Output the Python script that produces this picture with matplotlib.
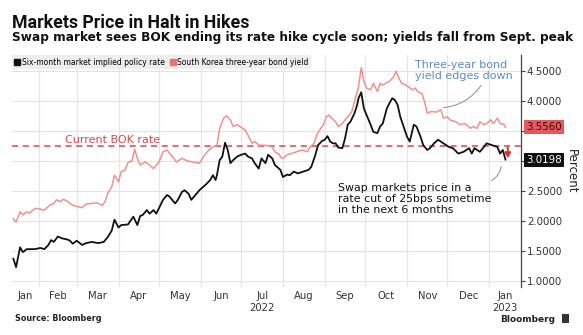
import matplotlib
matplotlib.use("Agg")
import matplotlib.pyplot as plt
import matplotlib.dates as mdates
from matplotlib.lines import Line2D
from matplotlib.patches import Rectangle
import pandas as pd

# six-month market implied policy rate
policy_dates = [
    "2022-01-13", "2022-01-15", "2022-01-18", "2022-01-20", "2022-01-23", "2022-01-29",
    "2022-02-02", "2022-02-05", "2022-02-08", "2022-02-10", "2022-02-12", "2022-02-15",
    "2022-02-18", "2022-02-22", "2022-02-24", "2022-02-26", "2022-03-01", "2022-03-05",
    "2022-03-08", "2022-03-12", "2022-03-17", "2022-03-21", "2022-03-24", "2022-03-27",
    "2022-03-29", "2022-04-01", "2022-04-03", "2022-04-08", "2022-04-12", "2022-04-15",
    "2022-04-17", "2022-04-19", "2022-04-22", "2022-04-24", "2022-04-27", "2022-04-29",
    "2022-05-02", "2022-05-04", "2022-05-07", "2022-05-09", "2022-05-13", "2022-05-15",
    "2022-05-18", "2022-05-20", "2022-05-23", "2022-05-25", "2022-05-28", "2022-05-31",
    "2022-06-03", "2022-06-05", "2022-06-08", "2022-06-10", "2022-06-12", "2022-06-13",
    "2022-06-15", "2022-06-17", "2022-06-19", "2022-06-21", "2022-06-23", "2022-06-25",
    "2022-06-28", "2022-07-01", "2022-07-04", "2022-07-06", "2022-07-09", "2022-07-11",
    "2022-07-14", "2022-07-16", "2022-07-19", "2022-07-21", "2022-07-24", "2022-07-26",
    "2022-07-30", "2022-08-01", "2022-08-04", "2022-08-06", "2022-08-09", "2022-08-12",
    "2022-08-16", "2022-08-20", "2022-08-22", "2022-08-25", "2022-08-27", "2022-08-30",
    "2022-09-01", "2022-09-03", "2022-09-05", "2022-09-07", "2022-09-09", "2022-09-11",
    "2022-09-14", "2022-09-16", "2022-09-18", "2022-09-20", "2022-09-23", "2022-09-25",
    "2022-09-26", "2022-09-28", "2022-09-30", "2022-10-02", "2022-10-05", "2022-10-07",
    "2022-10-10", "2022-10-12", "2022-10-14", "2022-10-17", "2022-10-19", "2022-10-21",
    "2022-10-23", "2022-10-25", "2022-10-27", "2022-10-29", "2022-11-01", "2022-11-03",
    "2022-11-06", "2022-11-08", "2022-11-11", "2022-11-13", "2022-11-16", "2022-11-18",
    "2022-11-21", "2022-11-24", "2022-11-28", "2022-12-02", "2022-12-05", "2022-12-09",
    "2022-12-13", "2022-12-17", "2022-12-19", "2022-12-21", "2022-12-25", "2022-12-28",
    "2022-12-30", "2023-01-03", "2023-01-07", "2023-01-09", "2023-01-11", "2023-01-13",
]
policy_rate = [
    1.37, 1.23, 1.56, 1.48, 1.53, 1.53,
    1.55, 1.53, 1.60, 1.68, 1.65, 1.74,
    1.71, 1.69, 1.67, 1.62, 1.67, 1.60,
    1.63, 1.65, 1.63, 1.65, 1.73, 1.84,
    2.02, 1.89, 1.93, 1.94, 2.07, 1.93,
    2.08, 2.10, 2.18, 2.12, 2.18, 2.12,
    2.26, 2.35, 2.43, 2.40, 2.29, 2.35,
    2.48, 2.51, 2.45, 2.35, 2.43, 2.51,
    2.57, 2.61, 2.68, 2.76, 2.68, 2.76,
    3.01, 3.07, 3.30, 3.18, 2.96, 3.01,
    3.07, 3.10, 3.12, 3.07, 3.04, 2.96,
    2.87, 3.04, 2.96, 3.10, 3.04, 2.93,
    2.85, 2.73, 2.77, 2.76, 2.82, 2.79,
    2.82, 2.85, 2.90, 3.10, 3.26, 3.33,
    3.35, 3.41, 3.32, 3.29, 3.29, 3.22,
    3.21, 3.37, 3.60, 3.65, 3.79, 3.93,
    4.04, 4.14, 3.87, 3.76, 3.60, 3.48,
    3.46, 3.57, 3.62, 3.87, 3.96, 4.04,
    4.01, 3.93, 3.73, 3.60, 3.40, 3.32,
    3.60, 3.57, 3.40, 3.26, 3.18, 3.21,
    3.29, 3.35, 3.29, 3.23, 3.21, 3.12,
    3.15, 3.21, 3.12, 3.21, 3.15, 3.23,
    3.29, 3.26, 3.23, 3.12, 3.18, 3.0198,
]

# South Korea three-year bond yield
bond_dates = [
    "2022-01-13", "2022-01-15", "2022-01-18", "2022-01-20", "2022-01-23", "2022-01-25",
    "2022-01-28", "2022-01-30", "2022-02-03", "2022-02-05", "2022-02-09", "2022-02-12",
    "2022-02-14", "2022-02-17", "2022-02-19", "2022-02-22", "2022-02-24", "2022-02-26",
    "2022-03-01", "2022-03-05", "2022-03-08", "2022-03-12", "2022-03-16", "2022-03-20",
    "2022-03-22", "2022-03-24", "2022-03-27", "2022-03-29", "2022-04-01", "2022-04-03",
    "2022-04-06", "2022-04-08", "2022-04-11", "2022-04-13", "2022-04-15", "2022-04-17",
    "2022-04-21", "2022-04-24", "2022-04-27", "2022-05-01", "2022-05-04", "2022-05-07",
    "2022-05-09", "2022-05-12", "2022-05-14", "2022-05-18", "2022-05-22", "2022-05-26",
    "2022-05-31", "2022-06-04", "2022-06-07", "2022-06-10", "2022-06-13", "2022-06-15",
    "2022-06-18", "2022-06-20", "2022-06-23", "2022-06-25", "2022-06-28", "2022-06-30",
    "2022-07-04", "2022-07-06", "2022-07-09", "2022-07-11", "2022-07-14", "2022-07-17",
    "2022-07-21", "2022-07-24", "2022-07-26", "2022-07-29", "2022-07-31", "2022-08-01",
    "2022-08-04", "2022-08-07", "2022-08-11", "2022-08-15", "2022-08-19", "2022-08-21",
    "2022-08-24", "2022-08-26", "2022-08-29", "2022-08-31", "2022-09-02", "2022-09-04",
    "2022-09-06", "2022-09-09", "2022-09-11", "2022-09-14", "2022-09-16", "2022-09-18",
    "2022-09-21", "2022-09-23", "2022-09-26", "2022-09-28", "2022-09-30", "2022-10-02",
    "2022-10-05", "2022-10-07", "2022-10-10", "2022-10-12", "2022-10-14", "2022-10-17",
    "2022-10-19", "2022-10-22", "2022-10-24", "2022-10-26", "2022-10-28", "2022-10-31",
    "2022-11-02", "2022-11-05", "2022-11-07", "2022-11-09", "2022-11-12", "2022-11-14",
    "2022-11-16", "2022-11-19", "2022-11-23", "2022-11-26", "2022-11-28", "2022-12-01",
    "2022-12-03", "2022-12-07", "2022-12-10", "2022-12-14", "2022-12-18", "2022-12-20",
    "2022-12-23", "2022-12-25", "2022-12-28", "2022-12-30", "2023-01-02", "2023-01-04",
    "2023-01-07", "2023-01-09", "2023-01-12", "2023-01-13",
]
bond_yield = [
    2.04, 1.98, 2.15, 2.10, 2.15, 2.13,
    2.19, 2.21, 2.19, 2.18, 2.26, 2.29,
    2.35, 2.32, 2.36, 2.33, 2.29, 2.26,
    2.24, 2.22, 2.28, 2.29, 2.30, 2.26,
    2.32, 2.46, 2.57, 2.76, 2.65, 2.82,
    2.85, 2.97, 3.00, 3.19, 3.04, 2.93,
    2.98, 2.93, 2.87, 2.98, 3.15, 3.18,
    3.12, 3.04, 2.98, 3.04, 3.00, 2.98,
    2.96, 3.10, 3.18, 3.23, 3.26, 3.54,
    3.71, 3.75, 3.68, 3.57, 3.60, 3.57,
    3.51, 3.43, 3.29, 3.32, 3.26, 3.26,
    3.25, 3.23, 3.15, 3.11, 3.04, 3.04,
    3.10, 3.12, 3.15, 3.18, 3.15, 3.23,
    3.29, 3.43, 3.54, 3.60, 3.73, 3.76,
    3.71, 3.65, 3.57, 3.62, 3.68, 3.73,
    3.82, 3.98, 4.23, 4.55, 4.32, 4.21,
    4.18, 4.29, 4.15, 4.29, 4.26, 4.30,
    4.32, 4.40, 4.49, 4.37, 4.29, 4.26,
    4.23, 4.18, 4.21, 4.15, 4.12, 3.98,
    3.79, 3.82, 3.81, 3.85, 3.71, 3.73,
    3.68, 3.65, 3.60, 3.62, 3.54, 3.57,
    3.54, 3.65, 3.60, 3.62, 3.68, 3.62,
    3.71, 3.62, 3.60, 3.556,
]

bok_rate = 3.25
y_ticks = [1.0, 1.5, 2.0, 2.5, 3.0, 3.5, 4.0, 4.5]

BLACK = "#111111"
PINK = "#f29090"
RED = "#e0444c"
BLUE = "#5a8cc4"
GRID = "#e4e4e4"

W, H = 583, 335
fig = plt.figure(figsize=(W / 100, H / 100), dpi=100)
ax = fig.add_axes([12 / W, 1 - 287 / H, (520.7 - 12) / W, (287 - 55) / H])

pdates = pd.to_datetime(policy_dates)
bdates = pd.to_datetime(bond_dates)

ax.plot(bdates, bond_yield, color=PINK, lw=1.1, zorder=3)
ax.plot(pdates, policy_rate, color=BLACK, lw=1.3, zorder=4)
ax.axhline(bok_rate, color=RED, lw=1.1, ls=(0, (4, 3)), zorder=2)

x0 = pd.Timestamp("2022-01-12")
x1 = pd.Timestamp("2023-01-24 07:00")
ax.set_xlim(x0, x1)
ax.set_ylim(0.9, 4.76)

# month gridlines at month starts, labels centred in the visible part of each month
ax.xaxis.set_major_locator(mdates.MonthLocator())
ax.xaxis.set_major_formatter(plt.NullFormatter())
starts = pd.date_range("2022-01-01", "2023-02-01", freq="MS")
mids, names = [], []
for a, b in zip(starts[:-1], starts[1:]):
    lo, hi = max(a, x0), min(b, x1)
    if hi <= lo:
        continue
    mids.append(lo + (hi - lo) / 2)
    name = a.strftime("%b")
    if a.month == 7 and a.year == 2022:
        name += "\n2022"
    if a.month == 1 and a.year == 2023:
        name += "\n2023"
    names.append(name)
ax.set_xticks(mids, minor=True)
ax.set_xticklabels(names, minor=True)
ax.tick_params(axis="x", which="major", length=0)
ax.tick_params(axis="x", which="minor", length=0, pad=3, labelsize=7.2,
               labelcolor="#333333")

# the last-value boxes sit over the 3.0 and 3.5 labels, so leave those blank
ax.yaxis.tick_right()
ax.set_yticks(y_ticks)
ax.set_yticklabels(["" if v in (3.0, 3.5) else f"{v:.4f}" for v in y_ticks])
ax.tick_params(axis="y", which="major", length=3, width=0.8, pad=1.5,
               labelsize=7.4, color="#444444", labelcolor="#333333")
ax.yaxis.set_label_position("right")
ax.set_ylabel("Percent", rotation=270, fontsize=8.5, color="#222222", labelpad=11)

ax.grid(True, which="major", color=GRID, lw=0.8)
for side in ["top", "left", "bottom"]:
    ax.spines[side].set_visible(False)
ax.spines["right"].set_color("#444444")
ax.spines["right"].set_linewidth(0.9)

# last-value boxes on the right axis
ax.annotate(f"{bond_yield[-1]:.4f}", xy=(1.0, bond_yield[-1]),
            xycoords=("axes fraction", "data"), xytext=(4, 0),
            textcoords="offset points", ha="left", va="center", fontsize=7.4,
            color="#3a0a0a", annotation_clip=False, zorder=10,
            bbox=dict(boxstyle="square,pad=0.2", fc="#e4585e", ec="none"))
ax.annotate(f"{policy_rate[-1]:.4f}", xy=(1.0, policy_rate[-1]),
            xycoords=("axes fraction", "data"), xytext=(4, 0),
            textcoords="offset points", ha="left", va="center", fontsize=7.4,
            color="white", annotation_clip=False, zorder=10,
            bbox=dict(boxstyle="square,pad=0.2", fc="#111111", ec="none"))

# legend strip
handles = [Line2D([], [], marker="s", ls="none", color=BLACK, markersize=4),
           Line2D([], [], marker="s", ls="none", color="#f07070", markersize=4)]
leg = ax.legend(handles, ["Six-month market implied policy rate",
                          "South Korea three-year bond yield"],
                loc="upper left", bbox_to_anchor=(0, 1.0), ncol=2, fontsize=5.5,
                frameon=True, fancybox=False, handlelength=0.6, handletextpad=0.3,
                columnspacing=0.8, borderpad=0.35, borderaxespad=0)
leg.get_frame().set_facecolor("#eeeeee")
leg.get_frame().set_edgecolor("none")
leg.get_frame().set_alpha(1)

ax.text(pd.Timestamp("2022-02-20"), 3.35, "Current BOK rate", color=RED,
        fontsize=8, ha="left", va="center")

# rate cut arrow
cut_x = pd.Timestamp("2023-01-14 17:00")
ax.annotate("", xy=(cut_x, 3.0), xytext=(cut_x, bok_rate + 0.02),
            arrowprops=dict(arrowstyle="-|>,head_width=0.18,head_length=0.3",
                            color="#e0282e", lw=1.3), zorder=6)

ax.text(pd.Timestamp("2022-11-06 21:00"), 4.50, "Three-year bond\nyield edges down",
        color=BLUE, fontsize=8.0, ha="left", va="center", linespacing=1.05)
ax.annotate("", xy=(pd.Timestamp("2022-11-26"), 3.88),
            xytext=(pd.Timestamp("2022-12-27"), 4.29),
            arrowprops=dict(arrowstyle="-", color="#999999", lw=0.8,
                            connectionstyle="arc3,rad=-0.25"))

ax.text(pd.Timestamp("2022-09-10 19:00"), 2.36,
        "Swap markets price in a\nrate cut of 25bps sometime\nin the next 6 months",
        color="#111111", fontsize=7.9, ha="left", va="center", linespacing=1.15)
ax.annotate("", xy=(pd.Timestamp("2023-01-10"), 2.95),
            xytext=(pd.Timestamp("2023-01-01"), 2.65),
            arrowprops=dict(arrowstyle="-", color="#999999", lw=0.8,
                            connectionstyle="arc3,rad=0.3"))

# titles and footer
renderer = fig.canvas.get_renderer()


def fitted_text(x, y, s, width_px, size, **kw):
    t = fig.text(x / W, 1 - y / H, s, fontsize=size, va="baseline", **kw)
    w = t.get_window_extent(renderer).width
    t.set_fontsize(size * width_px / w)
    return t


fitted_text(12, 28, "Markets Price in Halt in Hikes", 237, 12,
            fontweight="bold", family="Roboto", color="#111111")
fitted_text(12, 41.5,
            "Swap market sees BOK ending its rate hike cycle soon; yields fall from Sept. peak",
            561, 9, fontweight="bold", color="#111111")
fitted_text(15, 321, "Source: Bloomberg", 87, 6, fontweight="bold", color="#222222")
fitted_text(500, 322, "Bloomberg", 55, 8, fontweight="bold", color="#222222")
fig.patches.append(Rectangle((562 / W, 1 - 323 / H), 7 / W, 9 / H,
                             transform=fig.transFigure, fc="#333333", ec="none"))

fig.savefig("out.png", dpi=100)
